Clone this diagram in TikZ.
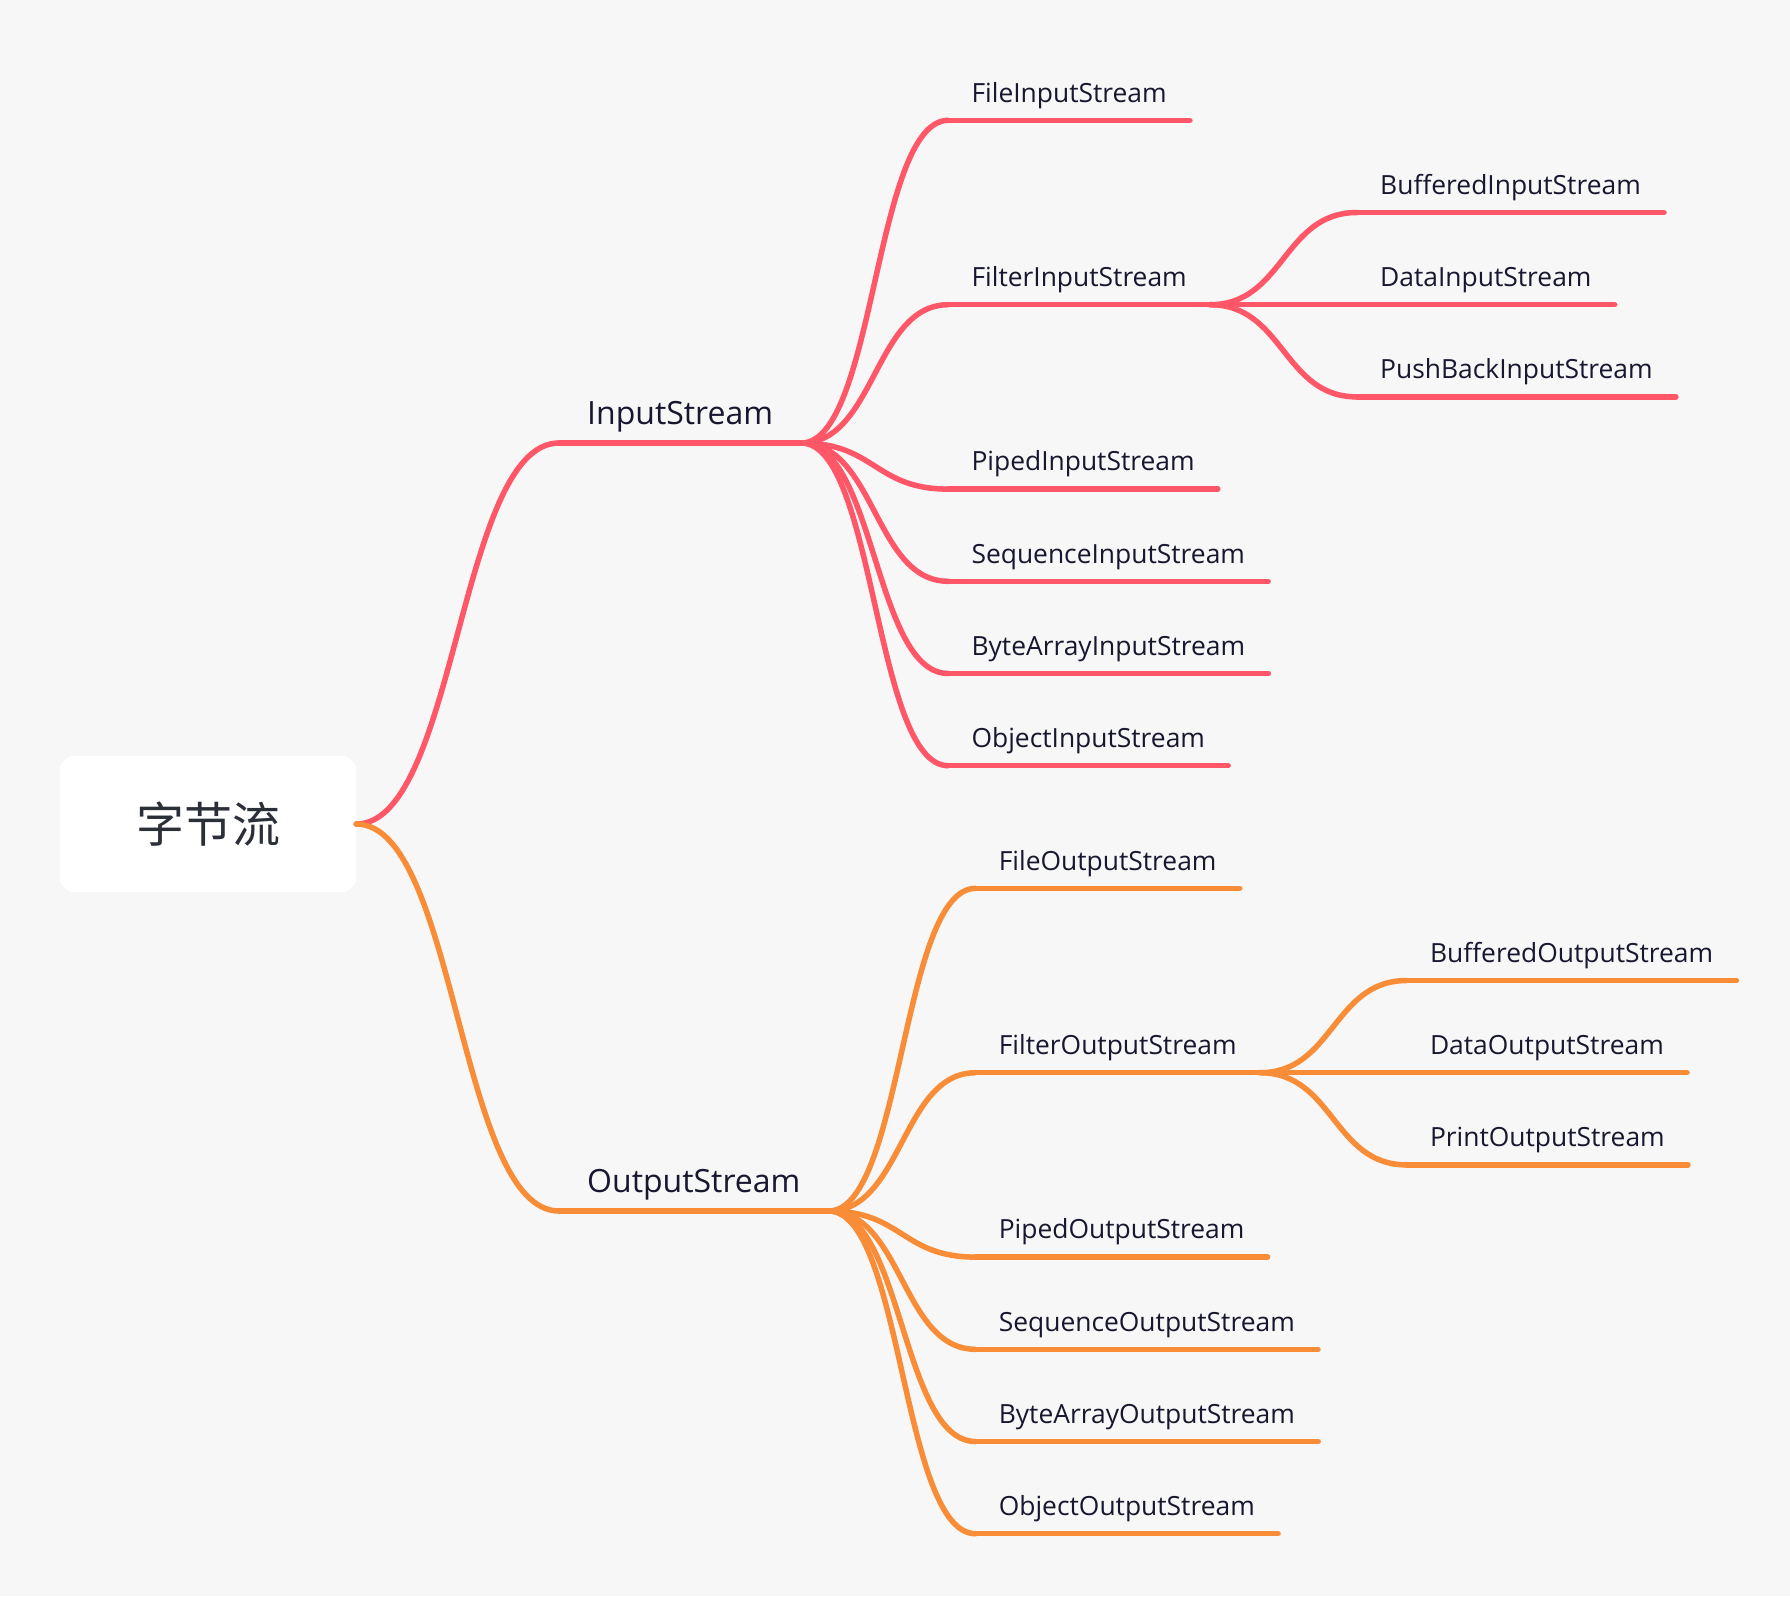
\documentclass[tikz,border=0pt]{standalone}
\usepackage{fontspec}
\setmainfont{Open Sans}
\newfontfamily\cjkfont{Noto Sans CJK SC}
\usetikzlibrary{calc}
\usetikzlibrary{positioning}
\definecolor{bg}{HTML}{F7F7F7}
\definecolor{inred}{HTML}{FF5768}
\definecolor{outorange}{HTML}{F88C37}
\definecolor{ink}{HTML}{17172F}
\definecolor{rootink}{HTML}{2B2F38}
\tikzset{%
  root/.style={rectangle, rounded corners=14pt, fill=white, minimum width=296pt,
    minimum height=136pt, text=rootink, font=\cjkfont\fontsize{48}{52}\selectfont},% central topic
  topic/.style={anchor=south west, inner xsep=28pt, inner ysep=18pt, text depth=0pt,
    text=ink, font=\fontsize{32}{36}\selectfont},% first level
  leaf/.style={topic, inner xsep=23pt, font=\fontsize{26.4}{30}\selectfont},% lower levels
  inbranch/.style={draw=inred, line width=5.5pt, line cap=round},% InputStream side
  outbranch/.style={draw=outorange, line width=5.5pt, line cap=round}% OutputStream side
}
\newcommand*{\slot}{92.2}
\newcommand*{\stem}[2]{\draw[#1] (#2.south west) -- (#2.south east);}
\newcommand*{\twig}[3]{\draw[#1] (#2) .. controls +(74,0) and +(-74,0) .. (#3);}

\begin{document}
\begin{tikzpicture}[x=1pt, y=-1pt]
  % Background, also fixes the page size:
  \fill[bg] (0,0) rectangle (1790,1596);
  % Central topic and the two main branches:
  \node[root] (byte) at (208,824) {字节流};
  \node[topic] (in) at (559,443) {InputStream};
  \node[topic] (out) at (559,1211) {OutputStream};
  % Children of InputStream:
  \node[leaf] (fis) at ($(in.south east)+(147,-3.5*\slot)$) {FileInputStream};
  \node[leaf] (fin) at ($(in.south east)+(147,-1.5*\slot)$) {FilterInputStream};
  \node[leaf] (pis) at ($(in.south east)+(147,0.5*\slot)$) {PipedInputStream};
  \node[leaf] (sis) at ($(in.south east)+(147,1.5*\slot)$) {SequenceInputStream};
  \node[leaf] (bis) at ($(in.south east)+(147,2.5*\slot)$) {ByteArrayInputStream};
  \node[leaf] (ois) at ($(in.south east)+(147,3.5*\slot)$) {ObjectInputStream};
  \node[leaf] (bfi) at ($(fin.south east)+(147,-\slot)$) {BufferedInputStream};
  \node[leaf] (dis) at ($(fin.south east)+(147,0)$) {DataInputStream};
  \node[leaf] (pbi) at ($(fin.south east)+(147,\slot)$) {PushBackInputStream};
  % Children of OutputStream:
  \node[leaf] (fos) at ($(out.south east)+(147,-3.5*\slot)$) {FileOutputStream};
  \node[leaf] (fon) at ($(out.south east)+(147,-1.5*\slot)$) {FilterOutputStream};
  \node[leaf] (pos) at ($(out.south east)+(147,0.5*\slot)$) {PipedOutputStream};
  \node[leaf] (sos) at ($(out.south east)+(147,1.5*\slot)$) {SequenceOutputStream};
  \node[leaf] (bos) at ($(out.south east)+(147,2.5*\slot)$) {ByteArrayOutputStream};
  \node[leaf] (oos) at ($(out.south east)+(147,3.5*\slot)$) {ObjectOutputStream};
  \node[leaf] (bfo) at ($(fon.south east)+(147,-\slot)$) {BufferedOutputStream};
  \node[leaf] (dos) at ($(fon.south east)+(147,0)$) {DataOutputStream};
  \node[leaf] (pro) at ($(fon.south east)+(147,\slot)$) {PrintOutputStream};
  % Curves from the central topic:
  \draw[inbranch] (byte.east) .. controls +(100,0) and +(-100,0) .. (in.south west);
  \draw[outbranch] (byte.east) .. controls +(100,0) and +(-100,0) .. (out.south west);
  % Red side, underlines and curves:
  \stem{inbranch}{in}
  \twig{inbranch}{in.south east}{fis.south west} \stem{inbranch}{fis}
  \twig{inbranch}{in.south east}{fin.south west} \stem{inbranch}{fin}
  \twig{inbranch}{in.south east}{pis.south west} \stem{inbranch}{pis}
  \twig{inbranch}{in.south east}{sis.south west} \stem{inbranch}{sis}
  \twig{inbranch}{in.south east}{bis.south west} \stem{inbranch}{bis}
  \twig{inbranch}{in.south east}{ois.south west} \stem{inbranch}{ois}
  \twig{inbranch}{fin.south east}{bfi.south west} \stem{inbranch}{bfi}
  \twig{inbranch}{fin.south east}{dis.south west} \stem{inbranch}{dis}
  \twig{inbranch}{fin.south east}{pbi.south west} \stem{inbranch}{pbi}
  % Orange side, underlines and curves:
  \stem{outbranch}{out}
  \twig{outbranch}{out.south east}{fos.south west} \stem{outbranch}{fos}
  \twig{outbranch}{out.south east}{fon.south west} \stem{outbranch}{fon}
  \twig{outbranch}{out.south east}{pos.south west} \stem{outbranch}{pos}
  \twig{outbranch}{out.south east}{sos.south west} \stem{outbranch}{sos}
  \twig{outbranch}{out.south east}{bos.south west} \stem{outbranch}{bos}
  \twig{outbranch}{out.south east}{oos.south west} \stem{outbranch}{oos}
  \twig{outbranch}{fon.south east}{bfo.south west} \stem{outbranch}{bfo}
  \twig{outbranch}{fon.south east}{dos.south west} \stem{outbranch}{dos}
  \twig{outbranch}{fon.south east}{pro.south west} \stem{outbranch}{pro}
\end{tikzpicture}
\end{document}
